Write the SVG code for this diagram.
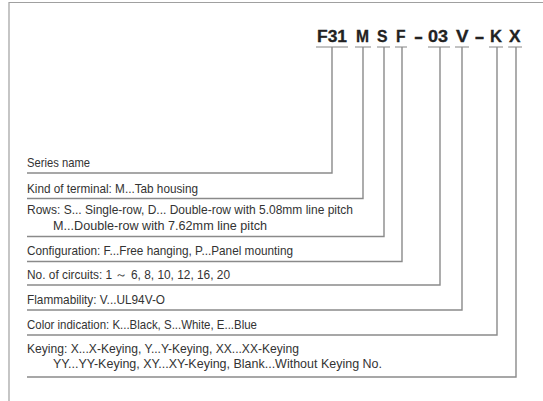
<svg xmlns="http://www.w3.org/2000/svg" width="543" height="401" viewBox="0 0 543 401">
<style>
.code{font-family:"Liberation Sans",Arial,sans-serif;font-weight:bold;font-size:16px;fill:#222;stroke:#222;stroke-width:0.3}
.lbl{font-family:"Liberation Sans",Arial,sans-serif;font-size:12.6px;fill:#333}
.ul{stroke:#999;stroke-width:1.2;fill:none}
.con{stroke:#8a8a8a;stroke-width:1.4;fill:none}
.frame{stroke:#a0a0a0;stroke-width:1.2;fill:none}
</style>
<rect width="543" height="401" fill="#fff"/>
<polyline class="frame" points="9,401 9,2.5 543,2.5"/>
<g id="code">
<g id="c-series"><text class="code" x="317" y="41.5" textLength="30" lengthAdjust="spacingAndGlyphs">F31</text><line class="ul" x1="316" y1="47" x2="348" y2="47"/></g>
<g id="c-terminal"><text class="code" x="356" y="41.5" textLength="13" lengthAdjust="spacingAndGlyphs">M</text><line class="ul" x1="355" y1="47" x2="371" y2="47"/></g>
<g id="c-rows"><text class="code" x="377" y="41.5" textLength="10.5" lengthAdjust="spacingAndGlyphs">S</text><line class="ul" x1="377" y1="47" x2="390" y2="47"/></g>
<g id="c-config"><text class="code" x="396" y="41.5" textLength="9.5" lengthAdjust="spacingAndGlyphs">F</text><line class="ul" x1="395" y1="47" x2="407" y2="47"/></g>
<text class="code" x="414" y="41.5" textLength="9" lengthAdjust="spacingAndGlyphs">-</text>
<g id="c-circuits"><text class="code" x="428" y="41.5" textLength="20" lengthAdjust="spacingAndGlyphs">03</text><line class="ul" x1="428" y1="47" x2="450" y2="47"/></g>
<g id="c-flam"><text class="code" x="456" y="41.5" textLength="12.5" lengthAdjust="spacingAndGlyphs">V</text><line class="ul" x1="455" y1="47" x2="469" y2="47"/></g>
<text class="code" x="474.5" y="41.5" textLength="10" lengthAdjust="spacingAndGlyphs">-</text>
<g id="c-color"><text class="code" x="490" y="41.5" textLength="12" lengthAdjust="spacingAndGlyphs">K</text><line class="ul" x1="489" y1="47" x2="503" y2="47"/></g>
<g id="c-keying"><text class="code" x="509" y="41.5" textLength="11.5" lengthAdjust="spacingAndGlyphs">X</text><line class="ul" x1="508" y1="47" x2="522" y2="47"/></g>
</g>
<g id="connectors">
<polyline class="con" points="27,173 332,173 332,47"/>
<polyline class="con" points="27,198.5 363,198.5 363,47"/>
<polyline class="con" points="27,236.5 384,236.5 384,47"/>
<polyline class="con" points="27,261.5 402,261.5 402,47"/>
<polyline class="con" points="27,285 440,285 440,47"/>
<polyline class="con" points="27,310 462,310 462,47"/>
<polyline class="con" points="27,335 497,335 497,47"/>
<polyline class="con" points="27,377 516,377 516,47"/>
</g>
<g id="series"><text class="lbl" x="27" y="167" textLength="63" lengthAdjust="spacingAndGlyphs">Series name</text></g>
<g id="terminal"><text class="lbl" x="27" y="193" textLength="171" lengthAdjust="spacingAndGlyphs">Kind of terminal: M...Tab housing</text></g>
<g id="rows"><text class="lbl" x="27" y="214" textLength="326" lengthAdjust="spacingAndGlyphs">Rows: S... Single-row,  D... Double-row with 5.08mm line pitch</text><text class="lbl" x="53" y="230" textLength="214" lengthAdjust="spacingAndGlyphs">M...Double-row with 7.62mm line pitch</text></g>
<g id="config"><text class="lbl" x="27" y="255" textLength="266" lengthAdjust="spacingAndGlyphs">Configuration: F...Free hanging,  P...Panel mounting</text></g>
<g id="circuits"><text class="lbl" x="27" y="279" textLength="203" lengthAdjust="spacingAndGlyphs">No. of circuits: 1 ～ 6, 8, 10, 12, 16, 20</text></g>
<g id="flam"><text class="lbl" x="27" y="303.5" textLength="138" lengthAdjust="spacingAndGlyphs">Flammability: V...UL94V-O</text></g>
<g id="color"><text class="lbl" x="27" y="329" textLength="230" lengthAdjust="spacingAndGlyphs">Color indication: K...Black, S...White, E...Blue</text></g>
<g id="keying"><text class="lbl" x="27" y="353" textLength="272" lengthAdjust="spacingAndGlyphs">Keying: X...X-Keying,  Y...Y-Keying,  XX...XX-Keying</text><text class="lbl" x="53" y="368" textLength="329" lengthAdjust="spacingAndGlyphs">YY...YY-Keying,  XY...XY-Keying, Blank...Without Keying No.</text></g>
</svg>
